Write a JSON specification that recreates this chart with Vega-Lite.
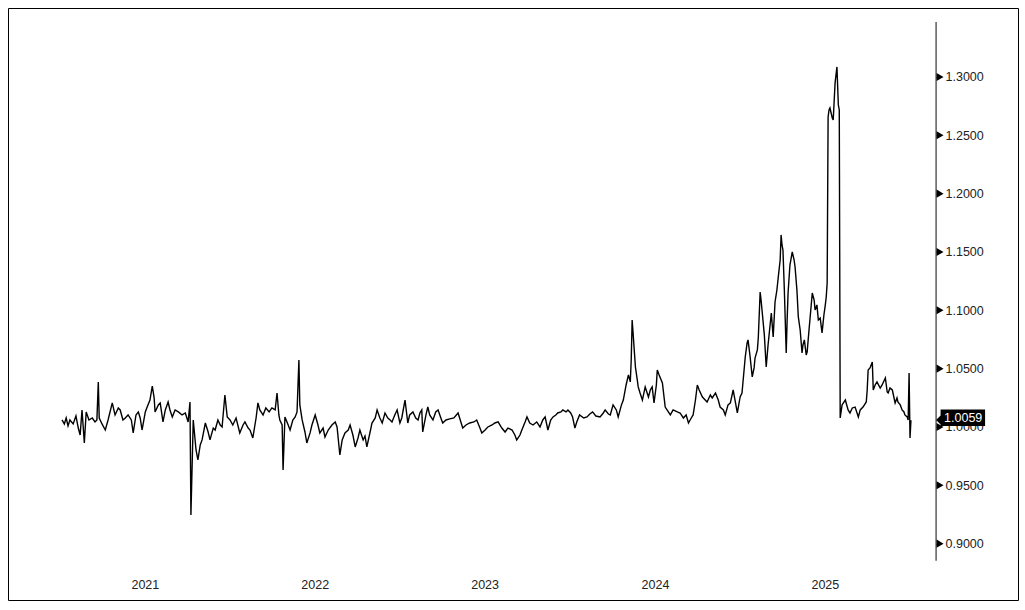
{
"$schema": "https://vega.github.io/schema/vega-lite/v6.json",
"width": 1010, "height": 592,
"autosize": {"type": "none"},
"padding": {"left": 8, "top": 8, "right": 7, "bottom": 10},
"background": "white",
"config": {"view": {"stroke": "black", "strokeWidth": 1}, "font": "Liberation Sans"},
"datasets": {
"series": [
{"date":"2021-01-05","value":1.0060},{"date":"2021-01-10","value":1.0026},{"date":"2021-01-14","value":1.0077},{"date":"2021-01-18","value":1.0009},{"date":"2021-01-22","value":1.0060},{"date":"2021-01-29","value":1.0026},{"date":"2021-02-04","value":1.0094},{"date":"2021-02-09","value":0.9991},{"date":"2021-02-13","value":0.9931},{"date":"2021-02-17","value":1.0146},{"date":"2021-02-22","value":0.9863},{"date":"2021-02-26","value":1.0129},{"date":"2021-03-04","value":1.0060},{"date":"2021-03-11","value":1.0077},{"date":"2021-03-17","value":1.0043},{"date":"2021-03-21","value":1.0060},{"date":"2021-03-24","value":1.0386},{"date":"2021-03-26","value":1.0077},{"date":"2021-04-01","value":1.0026},{"date":"2021-04-08","value":0.9974},{"date":"2021-04-14","value":1.0060},{"date":"2021-04-23","value":1.0206},{"date":"2021-04-29","value":1.0103},{"date":"2021-05-06","value":1.0163},{"date":"2021-05-10","value":1.0146},{"date":"2021-05-16","value":1.0060},{"date":"2021-05-21","value":1.0077},{"date":"2021-05-27","value":1.0103},{"date":"2021-06-03","value":1.0060},{"date":"2021-06-07","value":0.9949},{"date":"2021-06-13","value":1.0103},{"date":"2021-06-18","value":1.0129},{"date":"2021-06-22","value":1.0077},{"date":"2021-06-26","value":0.9974},{"date":"2021-07-03","value":1.0129},{"date":"2021-07-07","value":1.0171},{"date":"2021-07-13","value":1.0231},{"date":"2021-07-18","value":1.0351},{"date":"2021-07-22","value":1.0249},{"date":"2021-07-24","value":1.0129},{"date":"2021-07-31","value":1.0189},{"date":"2021-08-04","value":1.0206},{"date":"2021-08-10","value":1.0043},{"date":"2021-08-15","value":1.0146},{"date":"2021-08-21","value":1.0214},{"date":"2021-08-25","value":1.0146},{"date":"2021-08-30","value":1.0086},{"date":"2021-09-05","value":1.0146},{"date":"2021-09-12","value":1.0129},{"date":"2021-09-20","value":1.0103},{"date":"2021-09-27","value":1.0120},{"date":"2021-10-03","value":1.0043},{"date":"2021-10-07","value":1.0214},{"date":"2021-10-09","value":0.9246},{"date":"2021-10-14","value":1.0060},{"date":"2021-10-20","value":0.9803},{"date":"2021-10-24","value":0.9717},{"date":"2021-10-29","value":0.9846},{"date":"2021-11-02","value":0.9889},{"date":"2021-11-09","value":1.0034},{"date":"2021-11-15","value":0.9957},{"date":"2021-11-19","value":0.9889},{"date":"2021-11-26","value":0.9991},{"date":"2021-11-30","value":0.9974},{"date":"2021-12-06","value":1.0060},{"date":"2021-12-11","value":1.0017},{"date":"2021-12-15","value":1.0000},{"date":"2021-12-21","value":1.0274},{"date":"2021-12-26","value":1.0086},
{"date":"2022-01-01","value":1.0060},{"date":"2022-01-07","value":1.0017},{"date":"2022-01-14","value":1.0077},{"date":"2022-01-22","value":0.9949},{"date":"2022-01-29","value":1.0017},{"date":"2022-02-02","value":1.0043},{"date":"2022-02-09","value":0.9991},{"date":"2022-02-13","value":0.9974},{"date":"2022-02-19","value":0.9906},{"date":"2022-02-26","value":1.0077},{"date":"2022-03-02","value":1.0206},{"date":"2022-03-06","value":1.0146},{"date":"2022-03-13","value":1.0103},{"date":"2022-03-19","value":1.0163},{"date":"2022-03-26","value":1.0129},{"date":"2022-04-01","value":1.0163},{"date":"2022-04-08","value":1.0146},{"date":"2022-04-12","value":1.0291},{"date":"2022-04-16","value":1.0103},{"date":"2022-04-18","value":1.0060},{"date":"2022-04-23","value":1.0017},{"date":"2022-04-25","value":0.9632},{"date":"2022-04-29","value":1.0086},{"date":"2022-05-06","value":1.0017},{"date":"2022-05-10","value":0.9974},{"date":"2022-05-16","value":1.0060},{"date":"2022-05-21","value":1.0086},{"date":"2022-05-25","value":1.0129},{"date":"2022-05-29","value":1.0574},{"date":"2022-05-31","value":1.0189},{"date":"2022-06-05","value":1.0060},{"date":"2022-06-11","value":0.9957},{"date":"2022-06-15","value":0.9863},{"date":"2022-06-22","value":0.9949},{"date":"2022-06-26","value":1.0017},{"date":"2022-07-03","value":1.0103},{"date":"2022-07-09","value":1.0017},{"date":"2022-07-13","value":0.9949},{"date":"2022-07-20","value":0.9991},{"date":"2022-07-24","value":0.9914},{"date":"2022-07-31","value":0.9974},{"date":"2022-08-08","value":1.0017},{"date":"2022-08-15","value":1.0043},{"date":"2022-08-19","value":1.0000},{"date":"2022-08-25","value":0.9760},{"date":"2022-08-30","value":0.9889},{"date":"2022-09-05","value":0.9949},{"date":"2022-09-12","value":0.9974},{"date":"2022-09-16","value":1.0017},{"date":"2022-09-22","value":0.9931},{"date":"2022-09-27","value":0.9829},{"date":"2022-10-03","value":0.9906},{"date":"2022-10-07","value":0.9974},{"date":"2022-10-14","value":0.9889},{"date":"2022-10-18","value":0.9923},{"date":"2022-10-22","value":0.9829},{"date":"2022-10-29","value":0.9957},{"date":"2022-11-02","value":1.0034},{"date":"2022-11-09","value":1.0077},{"date":"2022-11-13","value":1.0146},{"date":"2022-11-19","value":1.0077},{"date":"2022-11-24","value":1.0034},{"date":"2022-11-30","value":1.0120},{"date":"2022-12-06","value":1.0077},{"date":"2022-12-11","value":1.0060},{"date":"2022-12-15","value":1.0043},{"date":"2022-12-21","value":1.0103},{"date":"2022-12-26","value":1.0146},
{"date":"2023-01-01","value":1.0034},{"date":"2023-01-05","value":1.0077},{"date":"2023-01-12","value":1.0231},{"date":"2023-01-18","value":1.0034},{"date":"2023-01-22","value":1.0103},{"date":"2023-01-29","value":1.0129},{"date":"2023-02-04","value":1.0077},{"date":"2023-02-09","value":1.0060},{"date":"2023-02-13","value":1.0120},{"date":"2023-02-17","value":1.0146},{"date":"2023-02-19","value":0.9957},{"date":"2023-02-26","value":1.0103},{"date":"2023-03-02","value":1.0171},{"date":"2023-03-06","value":1.0103},{"date":"2023-03-13","value":1.0060},{"date":"2023-03-19","value":1.0129},{"date":"2023-03-24","value":1.0146},{"date":"2023-03-30","value":1.0077},{"date":"2023-04-03","value":1.0034},{"date":"2023-04-10","value":1.0060},{"date":"2023-04-18","value":1.0069},{"date":"2023-04-27","value":1.0077},{"date":"2023-05-06","value":1.0120},{"date":"2023-05-12","value":1.0043},{"date":"2023-05-16","value":0.9991},{"date":"2023-05-23","value":1.0017},{"date":"2023-05-31","value":1.0034},{"date":"2023-06-09","value":1.0043},{"date":"2023-06-15","value":1.0060},{"date":"2023-06-22","value":0.9991},{"date":"2023-06-26","value":0.9949},{"date":"2023-07-03","value":0.9974},{"date":"2023-07-09","value":1.0000},{"date":"2023-07-18","value":1.0017},{"date":"2023-07-24","value":1.0034},{"date":"2023-07-31","value":1.0043},{"date":"2023-08-08","value":0.9991},{"date":"2023-08-15","value":0.9957},{"date":"2023-08-21","value":0.9991},{"date":"2023-08-30","value":0.9974},{"date":"2023-09-05","value":0.9931},{"date":"2023-09-09","value":0.9889},{"date":"2023-09-16","value":0.9931},{"date":"2023-09-20","value":0.9974},{"date":"2023-09-27","value":1.0043},{"date":"2023-10-01","value":1.0086},{"date":"2023-10-07","value":1.0034},{"date":"2023-10-14","value":1.0017},{"date":"2023-10-22","value":1.0043},{"date":"2023-10-29","value":1.0000},{"date":"2023-11-04","value":1.0060},{"date":"2023-11-09","value":1.0086},{"date":"2023-11-15","value":0.9974},{"date":"2023-11-21","value":1.0060},{"date":"2023-11-26","value":1.0086},{"date":"2023-12-02","value":1.0103},{"date":"2023-12-06","value":1.0120},{"date":"2023-12-13","value":1.0129},{"date":"2023-12-17","value":1.0146},{"date":"2023-12-24","value":1.0129},{"date":"2023-12-28","value":1.0146},
{"date":"2024-01-03","value":1.0120},{"date":"2024-01-07","value":1.0086},{"date":"2024-01-12","value":0.9991},{"date":"2024-01-16","value":1.0043},{"date":"2024-01-22","value":1.0103},{"date":"2024-01-31","value":1.0077},{"date":"2024-02-07","value":1.0086},{"date":"2024-02-13","value":1.0111},{"date":"2024-02-19","value":1.0129},{"date":"2024-02-26","value":1.0094},{"date":"2024-03-06","value":1.0086},{"date":"2024-03-13","value":1.0120},{"date":"2024-03-17","value":1.0146},{"date":"2024-03-24","value":1.0111},{"date":"2024-03-28","value":1.0103},{"date":"2024-04-03","value":1.0189},{"date":"2024-04-10","value":1.0146},{"date":"2024-04-14","value":1.0086},{"date":"2024-04-21","value":1.0189},{"date":"2024-04-25","value":1.0231},{"date":"2024-05-01","value":1.0360},{"date":"2024-05-06","value":1.0446},{"date":"2024-05-10","value":1.0386},{"date":"2024-05-12","value":1.0574},{"date":"2024-05-14","value":1.0917},{"date":"2024-05-16","value":1.0806},{"date":"2024-05-21","value":1.0514},{"date":"2024-05-25","value":1.0403},{"date":"2024-05-27","value":1.0343},{"date":"2024-05-31","value":1.0291},{"date":"2024-06-05","value":1.0231},{"date":"2024-06-11","value":1.0343},{"date":"2024-06-18","value":1.0257},{"date":"2024-06-22","value":1.0317},{"date":"2024-06-26","value":1.0343},{"date":"2024-06-30","value":1.0206},{"date":"2024-07-05","value":1.0360},{"date":"2024-07-07","value":1.0489},{"date":"2024-07-11","value":1.0446},{"date":"2024-07-18","value":1.0377},{"date":"2024-07-24","value":1.0171},{"date":"2024-07-28","value":1.0146},{"date":"2024-08-04","value":1.0103},{"date":"2024-08-10","value":1.0146},{"date":"2024-08-19","value":1.0129},{"date":"2024-08-25","value":1.0120},{"date":"2024-09-01","value":1.0077},{"date":"2024-09-07","value":1.0103},{"date":"2024-09-12","value":1.0034},{"date":"2024-09-18","value":1.0077},{"date":"2024-09-22","value":1.0103},{"date":"2024-09-27","value":1.0231},{"date":"2024-10-01","value":1.0360},{"date":"2024-10-05","value":1.0317},{"date":"2024-10-12","value":1.0257},{"date":"2024-10-18","value":1.0231},{"date":"2024-10-22","value":1.0214},{"date":"2024-10-29","value":1.0274},{"date":"2024-11-02","value":1.0249},{"date":"2024-11-09","value":1.0291},{"date":"2024-11-15","value":1.0231},{"date":"2024-11-19","value":1.0171},{"date":"2024-11-26","value":1.0146},{"date":"2024-11-30","value":1.0103},{"date":"2024-12-06","value":1.0189},{"date":"2024-12-11","value":1.0206},{"date":"2024-12-17","value":1.0317},{"date":"2024-12-21","value":1.0231},{"date":"2024-12-26","value":1.0120},
{"date":"2025-01-01","value":1.0257},{"date":"2025-01-05","value":1.0291},{"date":"2025-01-12","value":1.0600},{"date":"2025-01-16","value":1.0720},{"date":"2025-01-18","value":1.0746},{"date":"2025-01-22","value":1.0617},{"date":"2025-01-27","value":1.0429},{"date":"2025-01-31","value":1.0506},{"date":"2025-02-02","value":1.0591},{"date":"2025-02-07","value":1.0660},{"date":"2025-02-09","value":1.0763},{"date":"2025-02-13","value":1.1157},{"date":"2025-02-15","value":1.1088},{"date":"2025-02-17","value":1.1003},{"date":"2025-02-22","value":1.0789},{"date":"2025-02-26","value":1.0514},{"date":"2025-03-02","value":1.0703},{"date":"2025-03-09","value":1.0977},{"date":"2025-03-13","value":1.0771},{"date":"2025-03-17","value":1.1071},{"date":"2025-03-21","value":1.1174},{"date":"2025-03-24","value":1.1286},{"date":"2025-03-28","value":1.1431},{"date":"2025-03-30","value":1.1646},{"date":"2025-04-01","value":1.1560},{"date":"2025-04-03","value":1.1517},{"date":"2025-04-06","value":1.1174},{"date":"2025-04-10","value":1.0634},{"date":"2025-04-12","value":1.0917},{"date":"2025-04-14","value":1.1148},{"date":"2025-04-18","value":1.1388},{"date":"2025-04-23","value":1.1500},{"date":"2025-04-27","value":1.1431},{"date":"2025-04-29","value":1.1371},{"date":"2025-05-03","value":1.1174},{"date":"2025-05-06","value":1.0943},{"date":"2025-05-10","value":1.0831},{"date":"2025-05-14","value":1.0634},{"date":"2025-05-16","value":1.0703},{"date":"2025-05-19","value":1.0746},{"date":"2025-05-23","value":1.0617},{"date":"2025-05-25","value":1.0643},{"date":"2025-05-29","value":1.0831},{"date":"2025-06-05","value":1.1148},{"date":"2025-06-09","value":1.1088},{"date":"2025-06-11","value":1.1003},{"date":"2025-06-15","value":1.1046},{"date":"2025-06-18","value":1.0917},{"date":"2025-06-22","value":1.0934},{"date":"2025-06-26","value":1.0806},{"date":"2025-06-30","value":1.0960},{"date":"2025-07-03","value":1.1046},{"date":"2025-07-05","value":1.1114},{"date":"2025-07-07","value":1.1234},{"date":"2025-07-09","value":1.2657},{"date":"2025-07-11","value":1.2717},{"date":"2025-07-13","value":1.2734},{"date":"2025-07-18","value":1.2649},{"date":"2025-07-20","value":1.2631},{"date":"2025-07-24","value":1.2949},{"date":"2025-07-28","value":1.3086},{"date":"2025-07-31","value":1.2760},{"date":"2025-08-02","value":1.2717},{"date":"2025-08-04","value":1.0077},{"date":"2025-08-08","value":1.0189},{"date":"2025-08-15","value":1.0231},{"date":"2025-08-21","value":1.0146},{"date":"2025-08-25","value":1.0120},{"date":"2025-08-30","value":1.0163},{"date":"2025-09-05","value":1.0171},{"date":"2025-09-12","value":1.0086},{"date":"2025-09-16","value":1.0146},{"date":"2025-09-22","value":1.0171},{"date":"2025-09-29","value":1.0214},{"date":"2025-10-01","value":1.0317},{"date":"2025-10-03","value":1.0489},{"date":"2025-10-07","value":1.0506},{"date":"2025-10-12","value":1.0557},{"date":"2025-10-14","value":1.0317},{"date":"2025-10-18","value":1.0360},{"date":"2025-10-22","value":1.0386},{"date":"2025-10-29","value":1.0334},{"date":"2025-11-02","value":1.0360},{"date":"2025-11-09","value":1.0420},{"date":"2025-11-13","value":1.0300},{"date":"2025-11-15","value":1.0291},{"date":"2025-11-19","value":1.0334},{"date":"2025-11-24","value":1.0317},{"date":"2025-11-30","value":1.0206},{"date":"2025-12-04","value":1.0249},{"date":"2025-12-06","value":1.0214},{"date":"2025-12-11","value":1.0189},{"date":"2025-12-15","value":1.0146},{"date":"2025-12-19","value":1.0129},{"date":"2025-12-21","value":1.0103},{"date":"2025-12-26","value":1.0086},{"date":"2025-12-28","value":1.0060},{"date":"2025-12-30","value":1.0463},{"date":"2026-01-01","value":0.9906},{"date":"2026-01-03","value":1.0059}
],
"ticks": [{"tick":0.9},{"tick":0.95},{"tick":1.0},{"tick":1.05},{"tick":1.1},{"tick":1.15},{"tick":1.2},{"tick":1.25},{"tick":1.3}]
},
"layer": [
{
"data": {"name": "series"},
"mark": {"type": "line", "color": "black", "strokeWidth": 1.4, "strokeJoin": "miter"},
"encoding": {
"x": {"field": "date", "type": "temporal", "title": null,
"scale": {"type": "utc", "domain": [{"year": 2020, "month": 9, "date": 11, "utc": true}, {"year": 2026, "month": 8, "date": 21, "utc": true}]},
"axis": {"orient": "bottom", "offset": -22, "domain": false, "ticks": false, "grid": false, "labelPadding": 0, "labelBaseline": "top",
"values": [{"year": 2021, "month": 7, "date": 2, "utc": true}, {"year": 2022, "month": 7, "date": 2, "utc": true}, {"year": 2023, "month": 7, "date": 2, "utc": true}, {"year": 2024, "month": 7, "date": 2, "utc": true}, {"year": 2025, "month": 7, "date": 2, "utc": true}],
"format": "%Y", "labelFontSize": 12.5, "labelColor": "#222222", "labelFont": "Liberation Sans", "labelAlign": "center"}},
"y": {"field": "value", "type": "quantitative", "title": null,
"scale": {"domain": [0.8517, 1.3591], "zero": false, "nice": false},
"axis": {"orient": "right", "offset": -82, "domain": false, "grid": false, "tickSize": 4, "tickColor": "#333333", "tickWidth": 1,
"values": [0.9, 0.925, 0.95, 0.975, 1.0, 1.025, 1.05, 1.075, 1.1, 1.125, 1.15, 1.175, 1.2, 1.225, 1.25, 1.275, 1.3, 1.325],
"labelExpr": "abs(datum.value*20 - round(datum.value*20)) < 0.001 ? format(datum.value, '.4f') : ''",
"labelPadding": 5, "labelFontSize": 12.5, "labelColor": "#222222", "labelFont": "Liberation Sans", "labelAlign": "left", "labelBaseline": "middle"}}
}
},
{
"data": {"values": [{}]},
"mark": {"type": "rule", "color": "#333333", "strokeWidth": 1.2},
"encoding": {
"x": {"datum": {"year": 2026, "month": 2, "date": 26, "utc": true}, "type": "temporal"},
"y": {"datum": 0.8854, "type": "quantitative"},
"y2": {"datum": 1.3471}
}
},
{
"data": {"name": "ticks"},
"mark": {"type": "point", "shape": "triangle-right", "filled": true, "color": "black", "opacity": 1, "size": 65, "xOffset": 4},
"encoding": {
"x": {"datum": {"year": 2026, "month": 2, "date": 26, "utc": true}, "type": "temporal"},
"y": {"field": "tick", "type": "quantitative", "title": null}
}
},
{
"data": {"name": "series"},
"transform": [{"filter": "datum.value === 1.0059"}],
"mark": {"type": "point", "shape": "M0,0 L0.45,-0.45 L0.45,-1.07 L4.9,-1.07 L4.9,0.6 L0.45,0.6 L0.45,0.45 Z", "filled": true, "color": "black", "opacity": 1, "size": 400, "strokeWidth": 0},
"encoding": {
"x": {"datum": {"year": 2026, "month": 2, "date": 26, "utc": true}, "type": "temporal"},
"y": {"field": "value", "type": "quantitative", "title": null}
}
},
{
"data": {"name": "series"},
"transform": [{"filter": "datum.value === 1.0059"}],
"mark": {"type": "text", "color": "white", "align": "left", "baseline": "middle", "dx": 8, "dy": -2, "fontSize": 12.5, "font": "Liberation Sans"},
"encoding": {
"x": {"datum": {"year": 2026, "month": 2, "date": 26, "utc": true}, "type": "temporal"},
"y": {"field": "value", "type": "quantitative", "title": null},
"text": {"field": "value", "type": "quantitative", "format": ".4f"}
}
}
]
}
